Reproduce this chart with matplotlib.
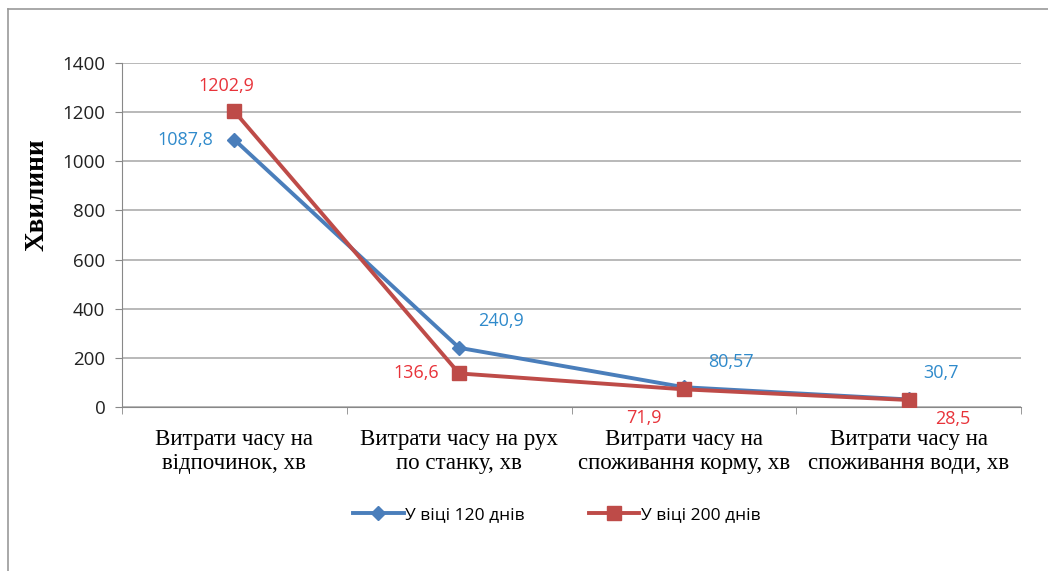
import numpy as np
import matplotlib.pyplot as plt
from matplotlib.lines import Line2D

categories = ["Витрати часу на\nвідпочинок, хв",
              "Витрати часу на рух\nпо станку, хв",
              "Витрати часу на\nспоживання корму, хв",
              "Витрати часу на\nспоживання води, хв"]
series_names = ["У віці 120 днів", "У віці 200 днів"]
values_120 = [1087.8, 240.9, 80.57, 30.7]
values_200 = [1202.9, 136.6, 71.9, 28.5]
labels_120 = ["1087,8", "240,9", "80,57", "30,7"]
labels_200 = ["1202,9", "136,6", "71,9", "28,5"]
yticks = [0, 200, 400, 600, 800, 1000, 1200, 1400]

blue = "#4A7EBB"
red = "#BE4B48"
blue_txt = "#2F8ACB"
red_txt = "#E8333A"

fig = plt.figure(figsize=(10.48, 5.71), dpi=100)
ax = fig.add_axes([122 / 1048, 1 - 407 / 571, 899 / 1048, 344 / 571])

x = np.arange(len(categories))
ax.plot(x, values_120, color=blue, lw=2.8, marker="D", ms=7, mfc=blue, mec=blue, zorder=3)
ax.plot(x, values_200, color=red, lw=2.8, marker="s", ms=10, mfc=red, mec=red, zorder=4)

# label offsets in points (from the reference)
off_120 = [(-35, 0), (30, 19), (34, 18), (23, 19)]
off_200 = [(-6, 18), (-31, 0), (-29, -21), (32, -14)]
for i in range(len(categories)):
    ax.annotate(labels_120[i], (x[i], values_120[i]), xytext=off_120[i], textcoords="offset points",
                ha="center", va="center", color=blue_txt, fontsize=13, family="Open Sans")
    ax.annotate(labels_200[i], (x[i], values_200[i]), xytext=off_200[i], textcoords="offset points",
                ha="center", va="center", color=red_txt, fontsize=13, family="Open Sans")

ax.set_xlim(-0.5, len(categories) - 0.5)
ax.set_ylim(0, 1400)
ax.set_yticks(yticks)
ax.set_yticklabels([str(v) for v in yticks], fontsize=13.5, family="Open Sans", color="#222222")
ax.yaxis.grid(True, color="#A6A6A6", lw=1.1)
ax.set_axisbelow(True)

ax.set_xticks(x)
ax.set_xticklabels(categories, fontsize=16.5, family="Liberation Serif", linespacing=1.15)
ax.set_xticks(np.arange(-0.5, len(categories)), minor=True)
ax.tick_params(axis="x", which="major", length=0, pad=16)
ax.tick_params(axis="x", which="minor", length=5, color="#888888", direction="out")
ax.tick_params(axis="y", length=5, color="#888888", pad=7)

for s in ["top", "right"]:
    ax.spines[s].set_visible(False)
for s in ["left", "bottom"]:
    ax.spines[s].set_color("#888888")

fig.text(37 / 1048, 1 - 195 / 571, "Хвилини", rotation=90, ha="center", va="center",
         fontsize=19.5, family="Liberation Serif", fontweight="bold")

handles = [Line2D([], [], color=blue, lw=2.8, marker="D", ms=7),
           Line2D([], [], color=red, lw=2.8, marker="s", ms=10)]
fig.legend(handles, series_names, loc="center", bbox_to_anchor=(557 / 1048, 1 - 515 / 571),
           ncol=2, frameon=False, prop={"family": "Open Sans", "size": 12.5},
           handlelength=2.9, handletextpad=0.1, columnspacing=3.7)

# outer chart frame (top and left edges visible)
fig.add_artist(Line2D([8 / 1048, 8 / 1048], [0, 1 - 9 / 571], transform=fig.transFigure, color="#999999", lw=1.2))
fig.add_artist(Line2D([8 / 1048, 1], [1 - 9 / 571, 1 - 9 / 571], transform=fig.transFigure, color="#999999", lw=1.2))

fig.savefig("out.png", dpi=100)
